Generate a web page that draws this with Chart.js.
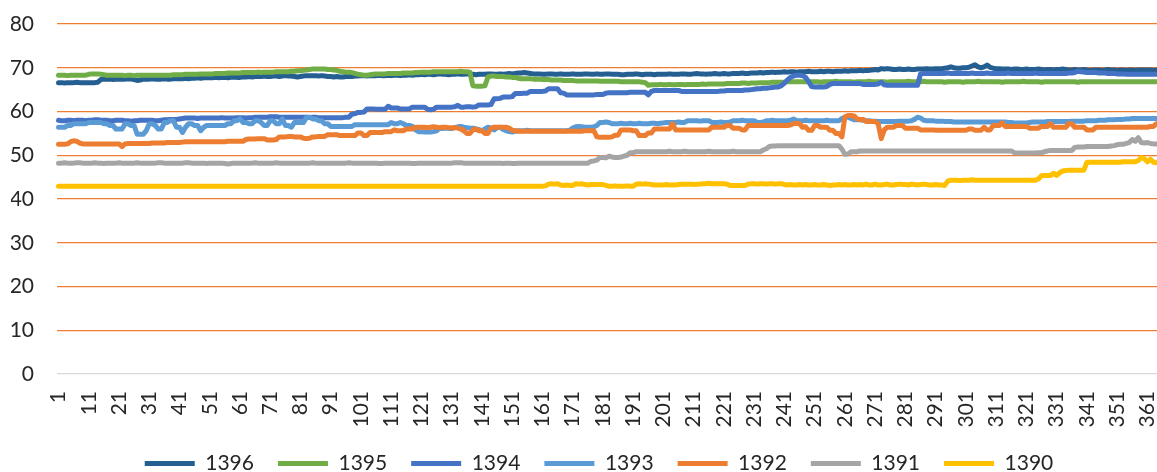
<!DOCTYPE html>
<html>
<head>
<meta charset="utf-8">
<script src="https://cdn.jsdelivr.net/npm/chart.js@4"></script>
<style>
  html, body { margin: 0; padding: 0; background: #fff; overflow: hidden; }
  #wrap { width: 1200px; height: 484px; }
</style>
</head>
<body>
<div id="wrap"><canvas id="yearChart" width="1200" height="484"></canvas></div>
<script>
// day of year, one point per day
const days = Array.from({ length: 365 }, (_, i) => String(i + 1));

const seriesNames = ['1396', '1395', '1394', '1393', '1392', '1391', '1390'];
const seriesColors = ['#255E91', '#70AD47', '#4472C4', '#5B9BD5', '#ED7D31', '#A5A5A5', '#FFC000'];

const yTicks = [0, 10, 20, 30, 40, 50, 60, 70, 80];

const d1396 = [
  66.6,66.6,66.5,66.6,66.6,66.6,66.7,66.6,66.6,66.6,
  66.6,66.6,66.6,66.7,67.3,67.4,67.4,67.4,67.3,67.4,
  67.4,67.4,67.4,67.5,67.4,67.3,67.1,67.2,67.4,67.4,
  67.4,67.5,67.4,67.4,67.4,67.5,67.4,67.4,67.5,67.5,
  67.5,67.5,67.6,67.5,67.6,67.6,67.7,67.6,67.7,67.7,
  67.7,67.7,67.8,67.7,67.8,67.8,67.7,67.8,67.9,67.8,
  67.8,67.9,67.9,68.0,67.9,68.0,68.0,68.0,68.1,68.0,
  68.0,68.1,68.1,68.0,68.1,68.2,68.1,68.1,68.0,67.9,
  68.0,68.1,68.2,68.2,68.2,68.2,68.1,68.2,68.1,68.0,
  68.0,67.9,68.0,67.9,67.9,68.0,68.0,68.0,68.1,68.1,
  68.2,68.2,68.1,68.2,68.2,68.2,68.3,68.2,68.2,68.3,
  68.2,68.3,68.3,68.2,68.3,68.3,68.4,68.3,68.4,68.4,
  68.5,68.4,68.5,68.5,68.4,68.5,68.6,68.5,68.5,68.4,
  68.5,68.5,68.6,68.5,68.5,68.6,68.5,68.5,68.4,68.5,
  68.5,68.5,68.6,68.6,68.5,68.5,68.6,68.5,68.6,68.7,
  68.6,68.7,68.8,68.8,68.9,68.8,68.7,68.6,68.6,68.6,
  68.5,68.5,68.6,68.6,68.5,68.5,68.6,68.5,68.5,68.5,
  68.6,68.5,68.5,68.5,68.6,68.6,68.5,68.5,68.6,68.5,
  68.5,68.6,68.6,68.5,68.5,68.5,68.4,68.4,68.5,68.5,
  68.5,68.6,68.5,68.4,68.5,68.5,68.5,68.4,68.5,68.5,
  68.5,68.5,68.6,68.5,68.5,68.5,68.6,68.6,68.5,68.5,
  68.6,68.7,68.6,68.6,68.5,68.6,68.6,68.7,68.6,68.6,
  68.7,68.6,68.6,68.7,68.7,68.7,68.8,68.7,68.7,68.8,
  68.8,68.8,68.9,68.8,68.9,68.9,69.0,68.9,69.0,69.0,
  69.1,69.0,69.1,69.1,69.0,69.1,69.1,69.1,69.2,69.1,
  69.1,69.1,69.2,69.1,69.2,69.2,69.1,69.2,69.2,69.2,
  69.3,69.2,69.3,69.3,69.3,69.4,69.3,69.4,69.4,69.5,
  69.6,69.5,69.8,69.7,69.8,69.7,69.6,69.6,69.7,69.6,
  69.6,69.7,69.6,69.6,69.7,69.7,69.7,69.8,69.7,69.7,
  69.8,69.8,69.8,69.9,70.0,70.2,70.0,69.9,69.9,70.0,
  70.0,70.1,70.4,70.7,70.2,70.0,70.2,70.6,70.1,69.9,
  69.8,69.8,69.7,69.7,69.7,69.6,69.7,69.7,69.6,69.6,
  69.7,69.6,69.6,69.6,69.7,69.6,69.5,69.6,69.6,69.5,
  69.6,69.6,69.7,69.6,69.5,69.5,69.6,69.5,69.5,69.6,
  69.5,69.4,69.5,69.5,69.5,69.4,69.5,69.6,69.5,69.5,
  69.4,69.5,69.5,69.4,69.5,69.5,69.4,69.5,69.5,69.5,
  69.5,69.5,69.4,69.5,69.5
];

const d1395 = [
  68.3,68.3,68.3,68.2,68.3,68.3,68.3,68.3,68.3,68.3,
  68.5,68.6,68.6,68.6,68.5,68.4,68.3,68.3,68.3,68.3,
  68.3,68.3,68.2,68.3,68.3,68.2,68.3,68.3,68.3,68.3,
  68.3,68.3,68.3,68.3,68.3,68.3,68.3,68.3,68.4,68.4,
  68.4,68.4,68.5,68.5,68.5,68.5,68.5,68.6,68.6,68.6,
  68.6,68.6,68.7,68.7,68.7,68.7,68.8,68.8,68.8,68.8,
  68.8,68.9,68.9,68.9,68.9,68.9,69.0,68.9,69.0,69.0,
  69.0,69.0,69.1,69.1,69.1,69.1,69.1,69.2,69.2,69.3,
  69.3,69.4,69.5,69.6,69.7,69.7,69.7,69.7,69.7,69.6,
  69.6,69.5,69.4,69.2,69.1,69.0,69.0,68.9,68.7,68.5,
  68.4,68.3,68.3,68.4,68.5,68.6,68.6,68.6,68.6,68.7,
  68.7,68.7,68.7,68.7,68.8,68.8,68.8,68.8,68.9,68.9,
  69.0,69.0,69.0,69.0,69.1,69.1,69.1,69.1,69.1,69.1,
  69.1,69.1,69.1,69.2,69.1,69.1,69.0,65.9,65.8,65.8,
  65.8,65.9,67.9,68.1,68.1,68.0,68.0,68.0,67.9,67.9,
  67.8,67.8,67.6,67.5,67.5,67.5,67.5,67.4,67.4,67.4,
  67.3,67.3,67.3,67.2,67.2,67.2,67.2,67.1,67.1,67.1,
  67.1,67.0,67.0,67.0,67.0,67.0,67.0,67.0,67.0,66.9,
  66.9,66.9,66.9,66.9,66.9,66.9,66.8,66.8,66.8,66.8,
  66.8,66.8,66.8,66.7,66.6,66.0,66.1,66.1,66.1,66.2,
  66.1,66.1,66.2,66.1,66.1,66.2,66.2,66.1,66.2,66.2,
  66.2,66.2,66.2,66.3,66.2,66.3,66.3,66.3,66.3,66.3,
  66.3,66.4,66.4,66.4,66.4,66.4,66.5,66.5,66.4,66.5,
  66.5,66.5,66.6,66.6,66.6,66.6,66.7,66.7,66.7,66.7,
  66.7,66.8,66.8,66.8,66.8,66.8,66.8,66.8,66.8,66.8,
  66.8,66.8,66.7,66.8,66.8,66.8,66.8,66.9,66.8,66.8,
  66.8,66.8,66.8,66.7,66.8,66.8,66.8,66.8,66.9,66.8,
  66.8,66.8,66.8,66.8,66.7,66.8,66.8,66.8,66.8,66.8,
  66.8,66.9,66.8,66.8,66.8,66.8,66.9,66.8,66.8,66.8,
  66.8,66.8,66.8,66.7,66.8,66.8,66.8,66.8,66.8,66.7,
  66.8,66.8,66.8,66.8,66.9,66.8,66.8,66.8,66.8,66.8,
  66.8,66.8,66.7,66.8,66.8,66.8,66.8,66.8,66.8,66.9,
  66.8,66.8,66.8,66.8,66.8,66.7,66.8,66.8,66.8,66.8,
  66.8,66.8,66.8,66.8,66.8,66.8,66.8,66.7,66.8,66.8,
  66.8,66.8,66.8,66.8,66.8,66.8,66.8,66.8,66.8,66.8,
  66.8,66.8,66.8,66.8,66.8,66.8,66.8,66.8,66.8,66.8,
  66.8,66.8,66.8,66.8,66.8
];

const d1394 = [
  58.0,57.9,57.9,58.0,58.0,57.9,58.0,58.0,58.0,57.9,
  58.0,58.0,58.1,58.1,58.0,58.0,58.0,57.9,57.9,58.0,
  58.0,58.0,57.9,57.9,57.8,57.9,57.9,58.0,58.0,58.0,
  58.0,58.0,57.9,57.9,58.0,58.1,58.1,58.2,58.2,58.2,
  58.3,58.4,58.5,58.5,58.5,58.5,58.4,58.5,58.5,58.5,
  58.5,58.5,58.5,58.5,58.6,58.5,58.5,58.5,58.5,58.6,
  58.6,58.6,58.5,58.6,58.6,58.7,58.7,58.7,58.7,58.7,
  58.8,58.8,58.8,58.7,58.7,58.7,58.7,58.7,58.7,58.7,
  58.7,58.7,58.7,58.6,58.7,58.7,58.6,58.6,58.6,58.6,
  58.6,58.6,58.6,58.6,58.6,58.7,58.7,59.4,59.5,59.8,
  59.8,59.9,60.6,60.6,60.6,60.5,60.5,60.5,60.5,61.2,
  60.8,60.8,60.8,60.6,60.6,60.6,60.6,61.0,61.0,61.0,
  61.0,61.0,60.5,60.4,60.5,61.0,61.0,61.0,61.0,61.0,
  61.0,61.1,61.4,61.0,61.0,61.1,61.1,61.0,61.1,61.5,
  61.5,61.5,61.5,61.6,62.9,62.9,63.0,63.3,63.3,63.3,
  63.4,64.1,64.1,64.1,64.2,64.2,64.6,64.6,64.6,64.6,
  64.6,64.7,65.2,65.2,65.2,65.2,64.3,64.2,63.8,63.8,
  63.8,63.8,63.8,63.8,63.8,63.8,63.8,63.8,63.9,63.9,
  63.9,64.2,64.3,64.3,64.3,64.3,64.3,64.3,64.3,64.4,
  64.4,64.4,64.4,64.4,64.4,63.8,64.6,64.8,64.8,64.8,
  64.8,64.8,64.8,64.8,64.8,64.8,64.6,64.6,64.6,64.6,
  64.6,64.6,64.6,64.6,64.6,64.6,64.6,64.6,64.6,64.7,
  64.7,64.8,64.8,64.8,64.8,64.8,64.8,64.9,64.9,65.0,
  65.1,65.2,65.2,65.3,65.3,65.4,65.5,65.6,65.6,65.9,
  66.5,67.2,67.8,68.1,68.3,68.3,68.2,67.8,66.8,65.7,
  65.6,65.6,65.6,65.6,65.7,66.2,66.4,66.4,66.4,66.4,
  66.4,66.4,66.4,66.4,66.4,66.4,66.2,66.2,66.2,66.2,
  66.2,66.3,66.7,66.1,66.0,66.0,66.0,66.0,66.0,66.0,
  66.0,66.0,66.0,66.0,66.0,68.6,68.7,68.7,68.7,68.7,
  68.7,68.7,68.7,68.7,68.8,68.7,68.7,68.7,68.7,68.7,
  68.7,68.7,68.8,68.7,68.7,68.7,68.7,68.8,68.7,68.7,
  68.7,68.7,68.7,68.7,68.8,68.7,68.7,68.7,68.7,68.7,
  68.7,68.7,68.7,68.8,68.7,68.7,68.7,68.7,68.7,68.7,
  68.7,68.7,68.7,68.7,68.8,68.8,68.9,69.2,69.1,69.0,
  68.9,68.9,68.9,68.9,68.8,68.8,68.8,68.7,68.7,68.7,
  68.6,68.6,68.6,68.5,68.5,68.5,68.5,68.5,68.5,68.5,
  68.5,68.5,68.5,68.5,68.5
];

const d1393 = [
  56.4,56.4,56.4,56.8,56.8,57.2,57.2,57.2,57.2,57.2,
  57.5,57.5,57.5,57.5,57.5,57.2,57.2,56.8,56.8,56.0,
  56.0,56.0,57.2,57.2,56.8,56.8,54.8,54.8,54.8,55.6,
  57.2,57.2,56.8,56.0,56.0,57.5,57.5,57.9,57.9,56.4,
  56.4,55.2,56.4,57.2,57.2,56.8,56.8,55.6,56.4,56.8,
  56.8,56.8,56.8,56.8,56.8,56.8,57.2,57.2,57.9,57.9,
  58.3,57.5,57.5,57.2,57.2,57.9,57.9,57.5,56.8,56.8,
  57.9,57.9,57.2,57.2,58.3,56.8,56.8,56.4,57.5,57.5,
  57.5,57.5,58.7,58.7,58.3,58.3,57.9,57.9,57.2,57.2,
  56.6,56.6,56.6,56.6,56.6,56.6,56.6,56.6,57.0,57.0,
  57.0,57.0,57.0,57.0,57.0,57.0,57.0,57.0,57.0,57.0,
  57.5,57.2,57.2,57.5,57.2,56.8,56.8,56.6,55.8,55.4,
  55.4,55.3,55.3,55.3,55.4,55.6,56.1,56.1,56.2,56.1,
  56.1,56.3,56.5,56.6,56.4,56.3,56.2,56.2,56.0,55.9,
  55.6,56.0,56.4,56.2,55.8,56.3,56.4,55.9,55.6,55.4,
  55.3,55.5,55.6,55.6,55.6,55.7,55.6,55.6,55.6,55.6,
  55.6,55.6,55.6,55.6,55.6,55.6,55.6,55.6,55.6,55.7,
  56.2,56.5,56.6,56.5,56.4,56.4,56.4,56.5,56.8,57.5,
  57.5,57.6,57.5,57.2,57.2,57.2,57.3,57.2,57.2,57.3,
  57.2,57.2,57.3,57.2,57.2,57.2,57.3,57.3,57.2,57.3,
  57.4,57.5,57.5,57.5,57.5,57.6,57.5,57.5,57.9,57.9,
  57.9,57.9,57.8,57.9,57.9,57.9,57.5,57.5,57.5,57.6,
  57.5,57.5,57.6,57.9,57.9,57.9,58.0,57.9,57.9,57.9,
  57.9,57.5,57.5,57.6,57.9,57.9,58.0,57.9,57.9,57.9,
  57.9,57.9,58.0,58.3,57.9,57.9,57.9,58.0,57.9,57.9,
  57.9,57.9,57.9,57.9,58.0,57.9,57.9,57.9,57.9,58.4,
  58.7,58.7,58.4,58.1,58.1,58.1,58.0,57.9,57.9,57.8,
  57.8,57.7,57.7,57.7,57.7,57.7,57.7,57.7,57.8,57.8,
  57.8,57.8,57.9,58.2,58.7,58.5,58.0,57.9,57.9,57.9,
  57.8,57.8,57.8,57.7,57.7,57.7,57.6,57.6,57.6,57.6,
  57.6,57.6,57.6,57.6,57.6,57.6,57.6,57.6,57.6,57.6,
  57.6,57.6,57.6,57.6,57.5,57.5,57.4,57.4,57.4,57.4,
  57.4,57.5,57.6,57.6,57.6,57.6,57.6,57.7,57.7,57.7,
  57.7,57.7,57.7,57.7,57.7,57.8,57.8,57.8,57.8,57.8,
  57.9,57.9,57.9,57.9,58.0,58.0,58.0,58.1,58.1,58.1,
  58.2,58.2,58.2,58.3,58.3,58.4,58.4,58.4,58.4,58.4,
  58.4,58.4,58.4,58.4,58.4
];

const d1392 = [
  52.5,52.5,52.5,52.6,53.1,53.3,53.2,52.8,52.6,52.6,
  52.6,52.6,52.6,52.6,52.6,52.6,52.6,52.6,52.6,52.6,
  52.6,52.0,52.6,52.7,52.7,52.7,52.7,52.7,52.7,52.7,
  52.7,52.8,52.8,52.8,52.8,52.8,52.9,52.9,52.9,52.9,
  52.9,53.0,53.1,53.1,53.1,53.1,53.1,53.1,53.1,53.1,
  53.1,53.1,53.1,53.1,53.1,53.1,53.2,53.2,53.2,53.2,
  53.2,53.2,53.6,53.7,53.7,53.7,53.8,53.8,53.8,53.5,
  53.5,53.5,53.6,54.2,54.2,54.2,54.3,54.3,54.2,54.2,
  54.2,53.9,53.8,53.9,54.2,54.2,54.3,54.3,54.3,54.7,
  54.7,54.7,54.7,54.5,54.5,54.5,54.5,54.5,54.5,55.1,
  55.1,54.5,54.5,55.2,55.2,55.2,55.2,55.2,55.4,55.4,
  55.4,55.8,55.6,55.6,55.6,56.0,56.0,56.0,56.4,56.4,
  56.4,56.4,56.3,56.4,56.5,56.4,56.3,56.4,56.4,56.3,
  56.3,56.3,56.2,56.0,55.6,55.0,55.0,55.8,56.0,55.6,
  55.6,55.0,55.0,56.2,56.4,56.4,56.4,56.4,56.4,56.2,
  55.7,55.6,55.5,55.5,55.5,55.5,55.5,55.5,55.5,55.5,
  55.5,55.5,55.5,55.5,55.5,55.5,55.5,55.5,55.5,55.5,
  55.5,55.5,55.5,55.5,55.6,55.6,55.6,55.6,54.2,54.1,
  54.1,54.1,54.1,54.2,54.6,54.6,55.8,55.8,55.8,55.8,
  55.6,55.6,54.5,54.5,54.5,55.1,55.1,56.0,56.0,56.0,
  56.0,56.0,56.0,57.2,55.8,55.8,55.8,55.8,55.8,55.8,
  55.8,55.8,55.8,55.8,55.8,55.8,56.4,56.4,56.4,56.4,
  56.4,56.8,56.8,56.2,56.2,56.2,55.8,55.8,56.8,56.8,
  56.8,56.8,56.8,56.8,56.8,56.8,56.8,56.8,56.8,56.8,
  56.8,56.8,56.9,57.2,57.3,57.2,56.4,56.5,55.7,55.7,
  56.8,56.8,56.4,56.4,56.4,55.7,55.7,55.0,55.0,54.2,
  58.8,59.1,59.1,59.0,58.3,58.2,58.2,57.7,57.7,57.7,
  57.7,57.2,53.8,55.8,56.4,56.4,56.4,56.8,56.8,56.8,
  56.2,56.2,56.2,56.2,56.2,55.8,55.8,55.8,55.8,55.8,
  55.7,55.7,55.7,55.7,55.7,55.7,55.7,55.7,55.7,55.7,
  55.7,56.0,56.0,55.7,55.7,55.7,56.4,55.8,55.8,56.8,
  56.8,56.8,57.4,56.6,56.6,56.6,56.6,56.6,56.6,56.6,
  56.6,56.2,56.2,56.2,56.2,56.6,56.6,56.6,57.2,56.4,
  56.4,56.4,56.4,56.4,57.2,57.2,56.4,56.4,56.4,56.4,
  55.8,55.8,55.8,56.4,56.4,56.4,56.4,56.4,56.4,56.4,
  56.4,56.4,56.4,56.4,56.4,56.4,56.4,56.4,56.4,56.4,
  56.4,56.6,56.6,57.2,57.2
];

const d1391 = [
  48.2,48.2,48.3,48.2,48.2,48.2,48.3,48.3,48.2,48.2,
  48.2,48.2,48.3,48.2,48.2,48.1,48.2,48.2,48.2,48.2,
  48.3,48.2,48.2,48.2,48.2,48.2,48.3,48.2,48.2,48.2,
  48.2,48.2,48.2,48.3,48.3,48.2,48.2,48.2,48.2,48.2,
  48.2,48.2,48.3,48.3,48.2,48.2,48.2,48.2,48.2,48.1,
  48.2,48.2,48.2,48.2,48.2,48.1,48.0,48.1,48.2,48.2,
  48.2,48.2,48.2,48.2,48.2,48.3,48.2,48.2,48.2,48.2,
  48.2,48.2,48.3,48.2,48.2,48.2,48.2,48.2,48.2,48.2,
  48.2,48.2,48.2,48.2,48.3,48.2,48.2,48.2,48.2,48.2,
  48.2,48.2,48.2,48.2,48.2,48.2,48.3,48.2,48.2,48.2,
  48.2,48.2,48.2,48.2,48.2,48.2,48.1,48.1,48.2,48.2,
  48.2,48.2,48.2,48.2,48.2,48.2,48.2,48.1,48.1,48.2,
  48.2,48.2,48.2,48.2,48.2,48.2,48.2,48.2,48.2,48.2,
  48.2,48.3,48.3,48.3,48.2,48.2,48.2,48.2,48.2,48.2,
  48.2,48.2,48.2,48.2,48.2,48.2,48.2,48.1,48.2,48.2,
  48.1,48.1,48.2,48.2,48.2,48.2,48.2,48.2,48.2,48.2,
  48.2,48.2,48.2,48.2,48.2,48.2,48.2,48.2,48.2,48.2,
  48.2,48.2,48.2,48.2,48.2,48.2,48.6,48.7,48.9,49.5,
  49.5,49.4,49.8,49.6,49.5,49.5,49.6,49.8,50.0,50.6,
  50.6,50.8,50.8,50.8,50.8,50.8,50.8,50.8,50.8,50.8,
  50.8,50.8,50.9,50.8,50.8,50.8,50.8,50.9,50.8,50.8,
  50.8,50.8,50.8,50.8,50.8,50.9,50.8,50.8,50.8,50.8,
  50.8,50.8,50.8,50.9,50.8,50.8,50.8,50.8,50.8,50.8,
  50.8,50.8,50.8,51.2,51.5,52.0,52.1,52.1,52.2,52.2,
  52.2,52.2,52.2,52.2,52.2,52.2,52.2,52.2,52.2,52.2,
  52.2,52.2,52.2,52.2,52.2,52.2,52.2,52.2,52.2,51.4,
  50.2,50.3,50.8,50.8,50.8,51.0,51.0,51.0,51.0,51.0,
  51.0,51.0,51.0,51.0,51.0,51.0,51.0,51.0,51.0,51.0,
  51.0,51.0,51.0,51.0,51.0,51.0,51.0,51.0,51.0,51.0,
  51.0,51.0,51.0,51.0,51.0,51.0,51.0,51.0,51.0,51.0,
  51.0,51.0,51.0,51.0,51.0,51.0,51.0,51.0,51.0,51.0,
  51.0,51.0,51.0,51.0,51.0,51.0,50.6,50.5,50.5,50.5,
  50.5,50.5,50.5,50.5,50.6,50.6,50.8,51.0,51.1,51.1,
  51.1,51.1,51.1,51.1,51.1,51.1,51.8,51.9,51.9,51.9,
  52.0,52.0,52.0,52.0,52.0,52.0,52.0,52.0,52.1,52.2,
  52.4,52.5,52.5,52.7,52.9,53.6,53.2,54.0,52.9,52.8,
  52.9,52.7,52.6,52.6,52.7
];

const d1390 = [
  42.9,42.9,42.9,42.9,42.9,42.9,42.9,42.9,42.9,42.9,
  42.9,42.9,42.9,42.9,42.9,42.9,42.9,42.9,42.9,42.9,
  42.9,42.9,42.9,42.9,42.9,42.9,42.9,42.9,42.9,42.9,
  42.9,42.9,42.9,42.9,42.9,42.9,42.9,42.9,42.9,42.9,
  42.9,42.9,42.9,42.9,42.9,42.9,42.9,42.9,42.9,42.9,
  42.9,42.9,42.9,42.9,42.9,42.9,42.9,42.9,42.9,42.9,
  42.9,42.9,42.9,42.9,42.9,42.9,42.9,42.9,42.9,42.9,
  42.9,42.9,42.9,42.9,42.9,42.9,42.9,42.9,42.9,42.9,
  42.9,42.9,42.9,42.9,42.9,42.9,42.9,42.9,42.9,42.9,
  42.9,42.9,42.9,42.9,42.9,42.9,42.9,42.9,42.9,42.9,
  42.9,42.9,42.9,42.9,42.9,42.9,42.9,42.9,42.9,42.9,
  42.9,42.9,42.9,42.9,42.9,42.9,42.9,42.9,42.9,42.9,
  42.9,42.9,42.9,42.9,42.9,42.9,42.9,42.9,42.9,42.9,
  42.9,42.9,42.9,42.9,42.9,42.9,42.9,42.9,42.9,42.9,
  42.9,42.9,42.9,42.9,42.9,42.9,42.9,42.9,42.9,42.9,
  42.9,42.9,42.9,42.9,42.9,42.9,42.9,42.9,42.9,42.9,
  42.9,43.0,43.4,43.5,43.4,43.5,43.2,43.1,43.2,43.1,
  43.1,43.5,43.4,43.5,43.3,43.2,43.3,43.3,43.3,43.3,
  43.3,43.1,42.9,42.9,43.0,42.9,42.9,42.9,43.0,42.9,
  42.9,43.4,43.5,43.4,43.5,43.4,43.3,43.2,43.2,43.2,
  43.2,43.3,43.2,43.2,43.2,43.3,43.4,43.4,43.4,43.4,
  43.3,43.4,43.4,43.5,43.5,43.6,43.5,43.5,43.5,43.5,
  43.5,43.4,43.1,43.1,43.1,43.1,43.1,43.1,43.4,43.5,
  43.5,43.4,43.5,43.5,43.4,43.5,43.5,43.4,43.5,43.5,
  43.3,43.2,43.3,43.2,43.2,43.3,43.2,43.3,43.2,43.2,
  43.3,43.2,43.2,43.3,43.2,43.1,43.2,43.2,43.3,43.2,
  43.3,43.2,43.2,43.3,43.2,43.3,43.2,43.4,43.2,43.2,
  43.4,43.2,43.2,43.3,43.4,43.2,43.2,43.3,43.4,43.3,
  43.3,43.2,43.4,43.3,43.2,43.3,43.4,43.3,43.2,43.2,
  43.3,43.2,43.2,43.1,44.1,44.3,44.3,44.3,44.2,44.3,
  44.3,44.3,44.4,44.3,44.3,44.3,44.3,44.3,44.3,44.3,
  44.3,44.3,44.3,44.3,44.3,44.3,44.3,44.3,44.3,44.3,
  44.3,44.3,44.3,44.3,44.6,45.3,45.4,45.4,45.4,45.9,
  45.4,46.0,46.4,46.5,46.6,46.6,46.6,46.6,46.6,46.6,
  48.4,48.4,48.4,48.4,48.4,48.4,48.4,48.4,48.4,48.4,
  48.4,48.4,48.5,48.5,48.5,48.5,48.5,48.8,49.5,49.2,
  48.5,49.1,48.4,48.3,48.2
];

const seriesData = [d1396, d1395, d1394, d1393, d1392, d1391, d1390];

const FONT = 'Lato, "Open Sans", sans-serif';
const TEXT = '#262626';

// later series sit on top, so push them in reverse and flip the legend back
var datasets = [];
for (var s = seriesNames.length - 1; s >= 0; s--) {
  datasets.push({
    label: seriesNames[s],
    data: seriesData[s],
    borderColor: seriesColors[s],
    backgroundColor: seriesColors[s],
    borderWidth: 5,
    borderCapStyle: 'round',
    borderJoinStyle: 'round',
    pointRadius: 0,
    pointHoverRadius: 0,
    tension: 0,
    fill: false
  });
}

// the original legend is centred on the whole picture, not on the plot
const legendNudge = {
  id: 'legendNudge',
  afterLayout: function (chart) {
    if (chart.legend) {
      chart.legend.left += 13;
      chart.legend.right += 13;
    }
  }
};

var ctx = document.getElementById('yearChart').getContext('2d');
new Chart(ctx, {
  type: 'line',
  data: { labels: days, datasets: datasets },
  plugins: [legendNudge],
  options: {
    responsive: false,
    animation: false,
    devicePixelRatio: 1,
    layout: { padding: { left: 11, right: 39, top: 24, bottom: 0 } },
    plugins: {
      tooltip: { enabled: false },
      legend: {
        position: 'bottom',
        reverse: true,
        labels: {
          usePointStyle: true,
          pointStyle: 'line',
          pointStyleWidth: 50,
          padding: 24,
          color: TEXT,
          font: { family: FONT, size: 21 }
        }
      }
    },
    scales: {
      x: {
        offset: true,
        grid: { display: false, drawTicks: false },
        border: { display: false },
        ticks: {
          autoSkip: false,
          minRotation: 90,
          maxRotation: 90,
          padding: 17,
          color: TEXT,
          font: { family: FONT, size: 21 },
          callback: function (value, index) {
            return index % 10 === 0 ? this.getLabelForValue(value) : '';
          }
        },
        afterFit: function (axis) {
          axis.paddingLeft = 0;
          axis.paddingRight = 0;
          axis.height = 55;
        }
      },
      y: {
        min: yTicks[0],
        max: yTicks[yTicks.length - 1],
        border: { display: false },
        grid: {
          drawTicks: false,
          lineWidth: 1.3,
          color: function (c) { return c.tick && c.tick.value === 0 ? '#D9D9D9' : '#ED7D31'; }
        },
        afterBuildTicks: function (axis) {
          axis.ticks = yTicks.map(function (v) { return { value: v }; });
        },
        afterFit: function (axis) {
          axis.paddingTop = 0;
          axis.paddingBottom = 0;
          axis.width = 46;
        },
        ticks: {
          padding: 23,
          color: TEXT,
          font: { family: FONT, size: 21 }
        }
      }
    }
  }
});
</script>
</body>
</html>
